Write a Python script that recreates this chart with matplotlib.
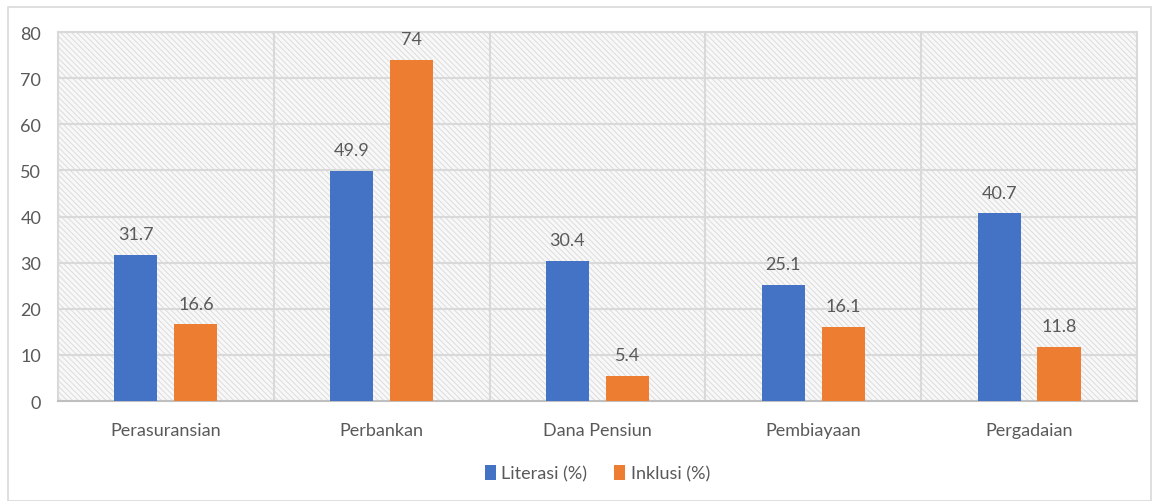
import matplotlib.pyplot as plt
import numpy as np
from matplotlib.patches import Rectangle

categories = ["Perasuransian", "Perbankan", "Dana Pensiun", "Pembiayaan", "Pergadaian"]
literasi = [31.7, 49.9, 30.4, 25.1, 40.7]
inklusi = [16.6, 74, 5.4, 16.1, 11.8]

blue = "#4472c4"
orange = "#ed7d31"
text_grey = "#595959"
grid_grey = "#d9d9d9"

plt.rcParams["font.family"] = ["Lato", "DejaVu Sans"]
plt.rcParams["hatch.color"] = "#dcdcdc"
plt.rcParams["hatch.linewidth"] = 0.7

fig = plt.figure(figsize=(11.55, 5.02), dpi=100)
fig.patches.append(Rectangle((8 / 1155, 0.0), 1 - 12 / 1155, 1 - 8 / 502,
                             transform=fig.transFigure, fill=False,
                             edgecolor="#d9d9d9", linewidth=1.2))
ax = fig.add_axes([0.0502, 0.1992, 0.9342, 0.7348])

# hatched plot area
ax.patch.set_facecolor("#f8f8f8")
ax.patch.set_hatch("\\\\\\\\\\\\")
ax.patch.set_edgecolor("#dcdcdc")

x = np.arange(len(categories))
width = 0.2
offset = 0.139
b1 = ax.bar(x - offset, literasi, width, color=blue, label="Literasi (%)", zorder=3)
b2 = ax.bar(x + offset, inklusi, width, color=orange, label="Inklusi (%)", zorder=3)

for bars, vals in ((b1, literasi), (b2, inklusi)):
    for rect, v in zip(bars, vals):
        ax.annotate(f"{v:g}", (rect.get_x() + rect.get_width() / 2, v),
                    xytext=(0, 15), textcoords="offset points",
                    ha="center", va="center", fontsize=13, color=text_grey, zorder=4)

ax.set_xlim(-0.5, len(categories) - 0.5)
ax.set_ylim(0, 80)
ax.set_yticks(range(0, 81, 10))
ax.set_xticks(x)
ax.set_xticklabels(categories)

for y in range(10, 81, 10):
    ax.axhline(y, color=grid_grey, linewidth=1.5, zorder=1)
for xb in np.arange(0.5, len(categories) - 0.5, 1):
    ax.axvline(xb, color=grid_grey, linewidth=1.5, zorder=1)

for side in ("top", "right", "left"):
    ax.spines[side].set_color(grid_grey)
    ax.spines[side].set_linewidth(1.5)
ax.spines["bottom"].set_color("#bfbfbf")
ax.spines["bottom"].set_linewidth(1.5)

ax.tick_params(axis="both", length=0, labelsize=13, labelcolor=text_grey)
ax.tick_params(axis="x", pad=15)
ax.tick_params(axis="y", pad=12)

ax.legend(loc="center", bbox_to_anchor=(0.5, -0.195), ncol=2, frameon=False,
          fontsize=13, labelcolor=text_grey, handlelength=0.6, handleheight=0.9,
          handletextpad=0.3, columnspacing=1.5)

fig.savefig("out.png", dpi=100)
